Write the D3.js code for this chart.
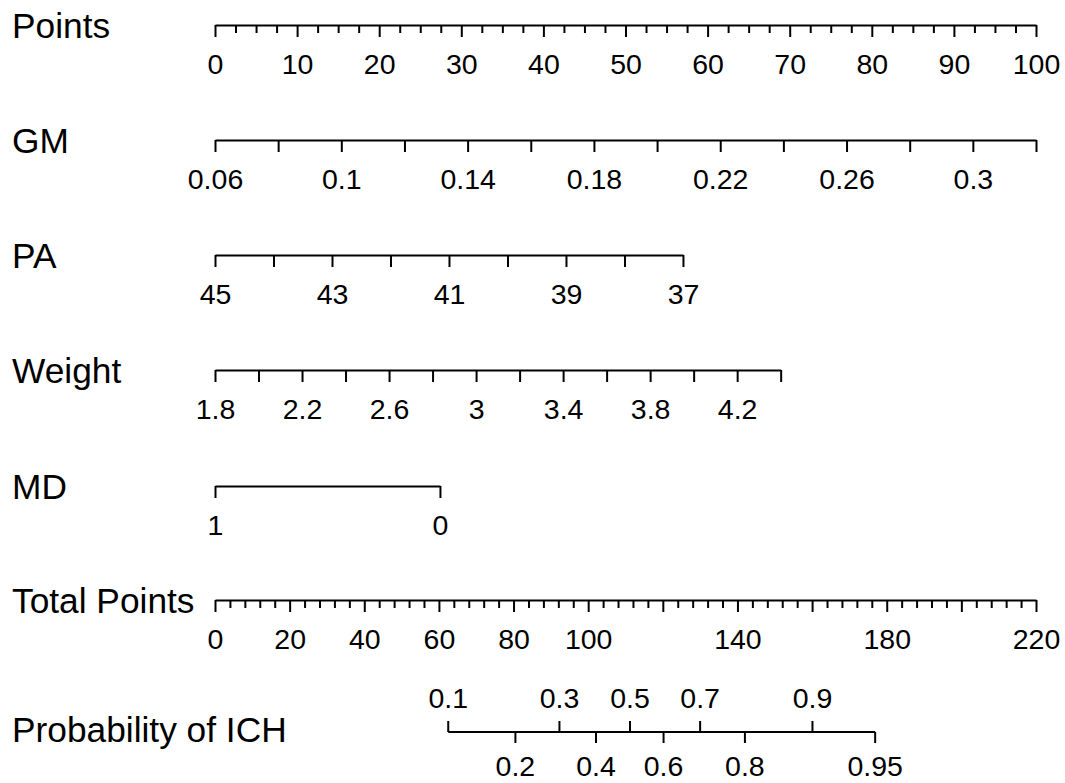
<!DOCTYPE html>
<html>
<head>
<meta charset="utf-8">
<script src="https://cdn.jsdelivr.net/npm/d3@7"></script>
<style>
  html, body { margin: 0; padding: 0; background: #fff; }
  svg { display: block; }
</style>
</head>
<body>
<svg id="chart" width="1065" height="783"></svg>
<script>
// ---------- DATA ----------
const rowTitles = ["Points", "GM", "PA", "Weight", "MD", "Total Points", "Probability of ICH"];

const pointsMajor = [0, 10, 20, 30, 40, 50, 60, 70, 80, 90, 100];
const pointsMinor = [2.5, 5, 7.5, 12.5, 15, 17.5, 22.5, 25, 27.5, 32.5, 35, 37.5, 42.5, 45, 47.5,
  52.5, 55, 57.5, 62.5, 65, 67.5, 72.5, 75, 77.5, 82.5, 85, 87.5, 92.5, 95, 97.5];

const gmTicks = [0.06, 0.08, 0.10, 0.12, 0.14, 0.16, 0.18, 0.20, 0.22, 0.24, 0.26, 0.28, 0.30, 0.32];
const gmLabels = ["0.06", "", "0.1", "", "0.14", "", "0.18", "", "0.22", "", "0.26", "", "0.3", ""];
const gmDomain = [0.06, 0.32];
const gmPoints = [0, 100];

const paTicks = [45, 44, 43, 42, 41, 40, 39, 38, 37];
const paLabels = ["45", "", "43", "", "41", "", "39", "", "37"];
const paDomain = [45, 37];
const paPoints = [0, 57];

const weightTicks = [1.8, 2.0, 2.2, 2.4, 2.6, 2.8, 3.0, 3.2, 3.4, 3.6, 3.8, 4.0, 4.2, 4.4];
const weightLabels = ["1.8", "", "2.2", "", "2.6", "", "3", "", "3.4", "", "3.8", "", "4.2", ""];
const weightDomain = [1.8, 4.4];
const weightPoints = [0, 68.9];

const mdTicks = [1, 0];
const mdLabels = ["1", "0"];
const mdDomain = [1, 0];
const mdPoints = [0, 27.4];

const totalMajor = [0, 20, 40, 60, 80, 100, 120, 140, 160, 180, 200, 220];
const totalLabels = ["0", "20", "40", "60", "80", "100", "", "140", "", "180", "", "220"];
const totalMinor = [4, 8, 12, 16, 24, 28, 32, 36, 44, 48, 52, 56, 64, 68, 72, 76, 84, 88, 92, 96,
  104, 108, 112, 116, 124, 128, 132, 136, 144, 148, 152, 156, 164, 168, 172, 176,
  184, 188, 192, 196, 204, 208, 212, 216];
const totalDomain = [0, 220];

const probLabels = ["0.1", "0.2", "0.3", "0.4", "0.5", "0.6", "0.7", "0.8", "0.9", "0.95"];
const probTotalPoints = [62.5, 80.5, 92.3, 102.1, 111.2, 120.2, 130.0, 142.0, 160.1, 176.9];
const probSide = ["up", "down", "up", "down", "up", "down", "up", "down", "up", "down"];

// ---------- LAYOUT ----------
const svg = d3.select("#chart");
const FONT = "'Liberation Sans', Arial, Helvetica, sans-serif";
const titleSize = 35.3;
const tickFont = 28.5;
const rowY = [25, 140, 255, 370, 486, 600, 732];
const xLeft = 215, xRight = 1036;

const ptsX = d3.scaleLinear().domain([0, 100]).range([xLeft, xRight]);
const totX = d3.scaleLinear().domain(totalDomain).range([xLeft, xRight]);

// row titles
svg.append("g").selectAll("text")
  .data(rowTitles)
  .join("text")
  .attr("x", 12)
  .attr("y", (d, i) => i === 6 ? rowY[i] + 10 : rowY[i] + 13)
  .attr("font-family", FONT)
  .attr("font-size", titleSize)
  .attr("fill", "#000")
  .text(d => d);

function drawAxis(y, scale, ticks, labels, minor) {
  const g = svg.append("g").attr("transform", `translate(0,${y})`);
  if (minor) {
    const gm = g.append("g").call(
      d3.axisBottom(scale).tickValues(minor).tickSize(8).tickSizeOuter(0).tickFormat(""));
    gm.select(".domain").remove();
    gm.selectAll("line").attr("stroke", "#000").attr("stroke-width", 2);
  }
  const ga = g.append("g").call(
    d3.axisBottom(scale).tickValues(ticks).tickSize(12).tickSizeOuter(0)
      .tickFormat((d, i) => labels[i]));
  ga.select(".domain").attr("stroke", "#000").attr("stroke-width", 2);
  ga.selectAll(".tick line").attr("stroke", "#000").attr("stroke-width", 2);
  ga.selectAll(".tick text")
    .attr("y", 49).attr("dy", null)
    .attr("font-family", FONT).attr("font-size", tickFont).attr("fill", "#000");
  ga.attr("font-family", null).attr("font-size", null);
}

// Points
drawAxis(rowY[0], ptsX, pointsMajor, pointsMajor.map(String), pointsMinor);

// Variable axes via their own scales mapped into the points scale
function varScale(domain, pts) {
  return d3.scaleLinear().domain(domain).range([ptsX(pts[0]), ptsX(pts[1])]);
}
drawAxis(rowY[1], varScale(gmDomain, gmPoints), gmTicks, gmLabels);
drawAxis(rowY[2], varScale(paDomain, paPoints), paTicks, paLabels);
drawAxis(rowY[3], varScale(weightDomain, weightPoints), weightTicks, weightLabels);
drawAxis(rowY[4], varScale(mdDomain, mdPoints), mdTicks, mdLabels);

// Total points
drawAxis(rowY[5], totX, totalMajor, totalLabels, totalMinor);

// Probability axis
const pg = svg.append("g").attr("transform", `translate(0,${rowY[6]})`);
const px = probTotalPoints.map(v => totX(v));
pg.append("line")
  .attr("x1", d3.min(px)).attr("x2", d3.max(px))
  .attr("y1", 0).attr("y2", 0)
  .attr("stroke", "#000").attr("stroke-width", 2);
const pt = pg.selectAll("g.pt")
  .data(probLabels.map((l, i) => ({ l, x: totX(probTotalPoints[i]), side: probSide[i] })))
  .join("g").attr("class", "pt")
  .attr("transform", d => `translate(${d.x},0)`);
pt.append("line")
  .attr("x1", 0).attr("x2", 0)
  .attr("y1", 0).attr("y2", d => d.side === "up" ? -11 : 11)
  .attr("stroke", "#000").attr("stroke-width", 2);
pt.append("text")
  .attr("text-anchor", "middle")
  .attr("y", d => d.side === "up" ? -24 : 44)
  .attr("font-family", FONT).attr("font-size", tickFont).attr("fill", "#000")
  .text(d => d.l);
</script>
</body>
</html>
